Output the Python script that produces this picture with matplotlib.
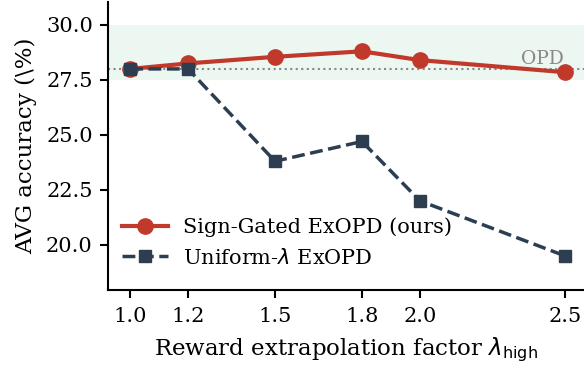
import numpy as np
import matplotlib
matplotlib.use('Agg')
import matplotlib.pyplot as plt

plt.rcParams['font.family'] = ['DejaVu Serif']
plt.rcParams['mathtext.fontset'] = 'dejavusans'

lam = [1.0, 1.2, 1.5, 1.8, 2.0, 2.5]
sign_gated = [28.0, 28.25, 28.55, 28.8, 28.4, 27.85]
uniform = [28.0, 28.0, 23.8, 24.7, 22.0, 19.5]
opd = 28.0

red = '#c0392b'
navy = '#2c3e50'

fig = plt.figure(figsize=(5.84, 3.67), dpi=100)
ax = fig.add_axes([0.185, 0.21, 0.815, 0.785])

# band around OPD
ax.axhspan(27.5, 30.0, color='#e8f5ee', alpha=0.75, lw=0, zorder=0)
ax.axhline(opd, color='#888888', ls=':', lw=1.5, zorder=1)
ax.text(2.495, opd + 0.05, 'OPD', color='#888888', fontsize=13.5,
        ha='right', va='bottom', zorder=1)

ax.plot(lam, sign_gated, '-o', color=red, lw=3, ms=11,
        label='Sign-Gated ExOPD (ours)', zorder=2)
ax.plot(lam, uniform, '--s', color=navy, lw=2.5, ms=9,
        label=r'Uniform-$\lambda$ ExOPD', zorder=3)

ax.set_xlim(0.924, 2.566)
ax.set_ylim(17.95, 31.05)
ax.set_xticks(lam)
ax.set_xticklabels(['1.0', '1.2', '1.5', '1.8', '2.0', '2.5'])
ax.set_yticks([20.0, 22.5, 25.0, 27.5, 30.0])
ax.set_yticklabels(['20.0', '22.5', '25.0', '27.5', '30.0'])
ax.tick_params(labelsize=15, length=6, width=1.5, pad=5)
ax.tick_params(axis='x', pad=6.5)
ax.spines['top'].set_visible(False)
ax.spines['right'].set_visible(False)
for s in ['left', 'bottom']:
    ax.spines[s].set_linewidth(1.5)

ax.set_xlabel(r'Reward extrapolation factor $\lambda_{\mathrm{high}}$',
              fontsize=16.5, labelpad=7)
ax.set_ylabel('AVG accuracy (\\%)', fontsize=16.5, labelpad=6)
ax.legend(loc='lower left', bbox_to_anchor=(-0.005, 0.02), frameon=False,
          fontsize=15, handlelength=2.2, handletextpad=0.7,
          borderaxespad=0.4, labelspacing=0.5)

fig.savefig('out.png', dpi=100)
